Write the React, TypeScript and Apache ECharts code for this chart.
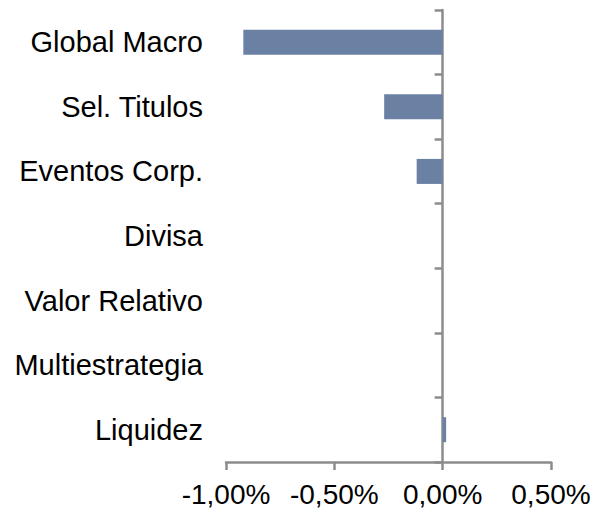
import React, { useEffect, useRef } from "react";
import * as echarts from "echarts";

const categories = [
  "Global Macro",
  "Sel. Titulos",
  "Eventos Corp.",
  "Divisa",
  "Valor Relativo",
  "Multiestrategia",
  "Liquidez",
];
const values = [-0.92, -0.27, -0.12, 0, 0, 0, 0.016];
const xMin = -1;
const xMax = 0.5;
const xInterval = 0.5;

const axisColor = "#8c8c8c";
const barColor = "#6a81a3";
const font = "Arial, 'Liberation Sans', sans-serif";

export default function App() {
  const ref = useRef<HTMLDivElement>(null);
  useEffect(() => {
    if (!ref.current) return;
    const chart = echarts.init(ref.current, null, { renderer: "svg" });
    chart.setOption({
      animation: false,
      backgroundColor: "#ffffff",
      grid: { left: 226, right: 55, top: 10, bottom: 51, containLabel: false },
      xAxis: {
        type: "value",
        min: xMin,
        max: xMax,
        interval: xInterval,
        splitLine: { show: false },
        axisLine: { show: true, lineStyle: { color: axisColor, width: 2.5 } },
        axisTick: { show: true, length: 8, lineStyle: { color: axisColor, width: 2.5 } },
        axisLabel: {
          color: "#000",
          fontSize: 28,
          fontFamily: font,
          margin: 18,
          formatter: (v: number) => v.toFixed(2).replace(".", ",") + "%",
        },
      },
      yAxis: [
        {
          type: "category",
          data: categories,
          inverse: true,
          axisLine: { show: false, onZero: false },
          axisTick: { show: false },
          axisLabel: { color: "#000", fontSize: 29, fontFamily: font, margin: 23 },
        },
        {
          type: "category",
          data: categories,
          inverse: true,
          position: "left",
          axisLine: { show: true, onZero: true, onZeroAxisIndex: 0, lineStyle: { color: axisColor, width: 2.5 } },
          axisTick: { show: true, length: 8, lineStyle: { color: axisColor, width: 2.5 } },
          axisLabel: { show: false },
        },
      ],
      series: [
        {
          type: "bar",
          data: values,
          yAxisIndex: 0,
          barWidth: 25,
          itemStyle: { color: barColor },
        },
      ],
    });
    return () => chart.dispose();
  }, []);
  return (
    <div
      ref={ref}
      style={{ position: "fixed", left: 0, top: 0, width: 606, height: 513 }}
    />
  );
}
